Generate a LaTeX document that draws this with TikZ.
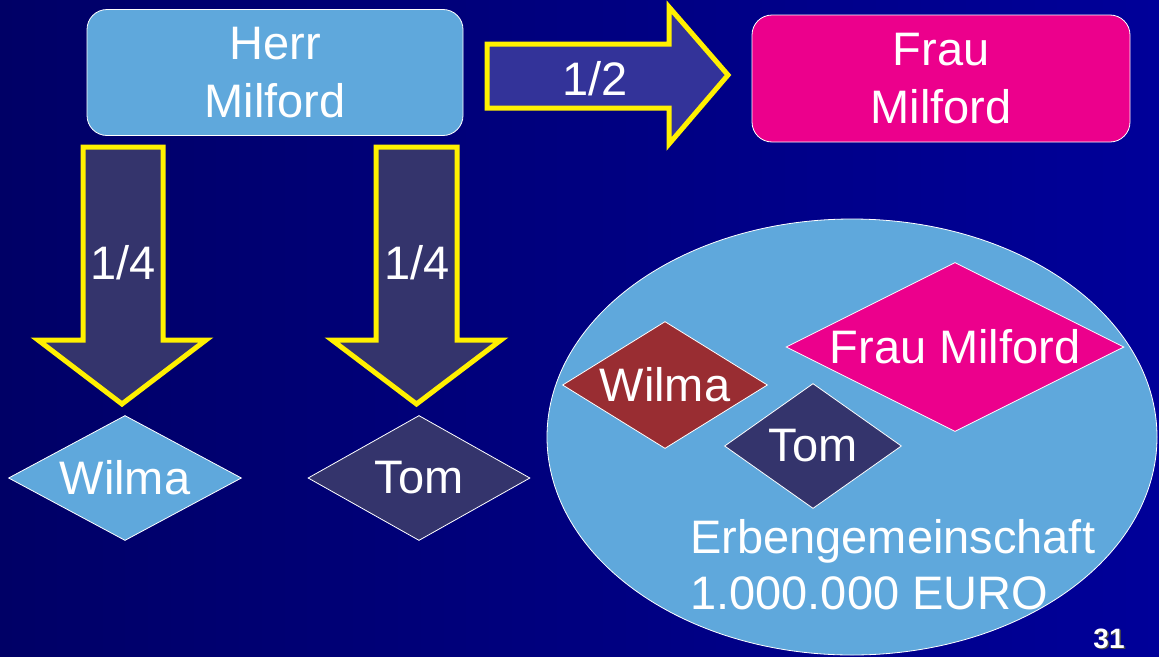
\documentclass[tikz,border=0pt]{standalone}
\usepackage{fontspec}
\setmainfont{Liberation Sans}
\usetikzlibrary{shapes.geometric}

\definecolor{navyL}{RGB}{0,0,102}
\definecolor{navyR}{RGB}{0,0,153}
\definecolor{sky}{RGB}{95,168,220}
\definecolor{pinkfill}{RGB}{236,0,140}
\definecolor{slate}{RGB}{52,52,108}
\definecolor{arrowblue}{RGB}{51,51,153}
\definecolor{brick}{RGB}{153,45,50}
\definecolor{gold}{RGB}{255,240,0}
\definecolor{shadowgray}{RGB}{70,70,70}

\newcommand\bigtext{\fontsize{47}{58}\selectfont}

\begin{document}
\begin{tikzpicture}[x=1pt,y=-1pt,
  every node/.style={text=white, inner sep=0pt, font=\bigtext},
  personbox/.style={rectangle, rounded corners=20pt, draw=white, line width=0.8pt,
    minimum width=376pt, minimum height=126pt, align=center},
  heir/.style={diamond, draw=white, line width=0.8pt},
  blockarrow/.style={draw=gold, line width=5pt, line join=miter},
  sharelabel/.style={anchor=base}
]
% background
\shade[left color=navyL, right color=navyR] (0,0) rectangle (1159,656);
\useasboundingbox (0,0) rectangle (1159,656);

% parents
\node (herr) [personbox, fill=sky] at (275,72.5) {Herr\\Milford};
\node (frau) [personbox, fill=pinkfill, minimum width=378pt, minimum height=127pt] at (941,78.5) {Frau\\Milford};

% block arrows with their shares
\draw[blockarrow, fill=arrowblue] (487,44) -- (669,44) -- (669,7) -- (728,75)
  -- (669,144) -- (669,108) -- (487,108) -- cycle;
\node (halfshare) [sharelabel] at (595,95) {1/2};

\draw[blockarrow, fill=slate] (83,147) -- (163,147) -- (163,340) -- (206,340)
  -- (122,404) -- (38,340) -- (83,340) -- cycle;
\node (quarterA) [sharelabel] at (123,279) {1/4};

\draw[blockarrow, fill=slate] (376,147) -- (457,147) -- (457,340) -- (501,340)
  -- (416.5,404) -- (332,340) -- (376,340) -- cycle;
\node (quarterB) [sharelabel] at (417,279) {1/4};

% children
\node (wilma) [heir, fill=sky, aspect=1.864, minimum width=233pt, minimum height=125pt] at (125,478) {Wilma};
\node (tom) [heir, fill=slate, aspect=1.776, minimum width=222pt, minimum height=125pt] at (419,478) {Tom};

% community of heirs
\node (pool) [ellipse, draw=white, line width=0.8pt, fill=sky,
  minimum width=610pt, minimum height=436pt] at (852,437) {};
\node (poolFrau) [heir, fill=pinkfill, aspect=2, minimum width=338pt, minimum height=169pt] at (955,347) {Frau Milford};
\node (poolWilma) [heir, fill=brick, aspect=1.614, minimum width=205pt, minimum height=127pt] at (665,385) {Wilma};
\node (poolTom) [heir, fill=slate, aspect=1.416, minimum width=177pt, minimum height=125pt] at (813,446) {Tom};
\node (estate) [anchor=west, align=left, font=\fontsize{47}{56}\selectfont] at (690,565)
  {Erbengemeinschaft\\1.000.000 EURO};

% slide number
\node (pagenum) [anchor=base, font=\fontsize{28}{30}\selectfont\bfseries] at (1109,648)
  {\rlap{\kern1.5pt\raisebox{-1.5pt}{\color{shadowgray}31}}31};
\end{tikzpicture}
\end{document}
